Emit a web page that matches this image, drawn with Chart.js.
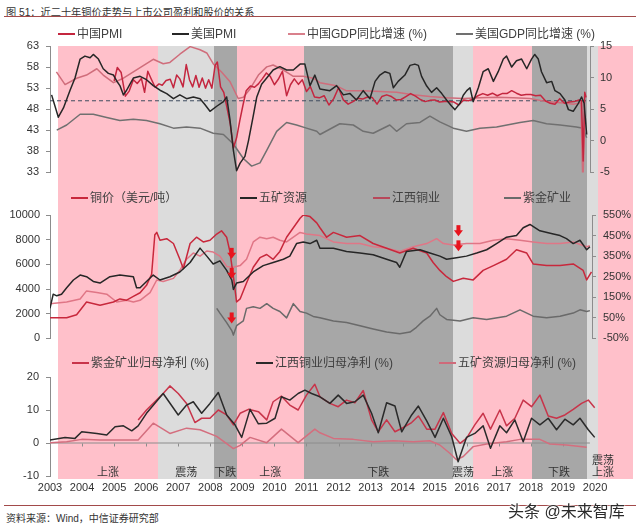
<!DOCTYPE html>
<html><head><meta charset="utf-8">
<script src="https://cdn.jsdelivr.net/npm/chart.js@4/dist/chart.umd.min.js"></script>
<style>
body{margin:0;width:640px;height:531px;background:#fff;position:relative;overflow:hidden;font-family:"Liberation Sans","Noto Sans CJK SC",sans-serif;}
canvas{position:absolute;left:0;}
.t{position:absolute;white-space:nowrap;color:#333;}
.lg{position:absolute;font-size:12px;color:#404040;white-space:nowrap;line-height:14px;height:14px}
.lg i{display:inline-block;width:17px;height:0;border-top:2px solid;vertical-align:middle;margin-right:2px;position:relative;top:-1px}
.hl{position:absolute;left:4px;width:632px;height:0;border-top:1.5px solid #a24a4a}
</style></head><body>
<div class="t" style="left:6px;top:4px;font-size:10.2px;color:#333">图 51：近二十年铜价走势与上市公司盈利和股价的关系</div>
<div class="hl" style="top:16px"></div>
<canvas id="cA" width="640" height="158" style="top:28px"></canvas>
<canvas id="cB" width="640" height="166" style="top:186px"></canvas>
<canvas id="cC" width="640" height="148" style="top:352px"></canvas>

<div class="lg" style="left:58px;top:27px"><i style="border-color:#c4263f"></i>中国PMI</div>
<div class="lg" style="left:172px;top:27px"><i style="border-color:#262626"></i>美国PMI</div>
<div class="lg" style="left:288px;top:27px"><i style="border-color:#d9808c"></i>中国GDP同比增速 (%)</div>
<div class="lg" style="left:456px;top:27px"><i style="border-color:#707070"></i>美国GDP同比增速 (%)</div>

<div class="lg" style="left:71px;top:191px"><i style="border-color:#c8283c"></i>铜价（美元/吨）</div>
<div class="lg" style="left:240px;top:191px"><i style="border-color:#262626"></i>五矿资源</div>
<div class="lg" style="left:373px;top:191px"><i style="border-color:#b8485a"></i>江西铜业</div>
<div class="lg" style="left:504px;top:191px"><i style="border-color:#6a6a6a"></i>紫金矿业</div>

<div class="lg" style="left:72px;top:356px"><i style="border-color:#c8344a"></i>紫金矿业归母净利 (%)</div>
<div class="lg" style="left:256px;top:356px"><i style="border-color:#2a2a2a"></i>江西铜业归母净利 (%)</div>
<div class="lg" style="left:439px;top:356px"><i style="border-color:#cf6a7a"></i>五矿资源归母净利 (%)</div>

<div class="hl" style="top:505px"></div>
<div class="t" style="left:6px;top:510px;font-size:10px;color:#333">资料来源：Wind，中信证券研究部</div>
<div class="t" style="left:508px;top:498px;font-size:16px;color:#2b2b2b;text-shadow:0 0 2px #fff,0 0 2px #fff,0 0 3px #fff">头条 @未来智库</div>

<script>
// ---------------- data ----------------
const yearTicks = [2003,2004,2005,2006,2007,2008,2009,2010,2011,2012,2013,2014,2015,2016,2017,2018,2019,2020];

const bandStart = [2003.25,2006.37,2008.12,2008.83,2010.92,2015.57,2016.19,2018.03,2019.74,2020.09];
const bandEnd   = [2006.37,2008.12,2008.83,2010.92,2015.57,2016.19,2018.03,2019.74,2020.09,2021.18];
const bandKind  = ['up','range','down','up','down','range','up','down','range','up'];
const bandLabelText  = ['上涨','震荡','下跌','上涨','下跌','震荡','上涨','下跌','震荡\n上涨'];
const bandLabelYears = [2004.81,2007.25,2008.47,2009.87,2013.24,2015.88,2017.11,2018.88,2020.25];

// Panel 1: PMI (left) & GDP yoy (right)
const cnPmi = [[2005.00,54.7],[2005.10,57.9],[2005.22,56.7],[2005.35,51.1],[2005.47,52.3],[2005.6,55.0],[2005.72,54.1],[2005.85,55.3],[2005.95,52.0],[2006.05,57.0],[2006.15,55.3],[2006.28,53.2],[2006.4,54.0],[2006.5,53.7],[2006.62,54.8],[2006.75,55.1],[2006.85,53.1],[2006.95,56.1],[2007.05,55.2],[2007.15,53.3],[2007.25,58.6],[2007.35,55.0],[2007.45,53.3],[2007.55,56.0],[2007.65,53.2],[2007.75,55.4],[2007.85,53.0],[2007.95,55.0],[2008.05,53.0],[2008.15,58.4],[2008.22,59.2],[2008.32,53.3],[2008.42,52.0],[2008.52,48.4],[2008.62,44.6],[2008.72,38.8],[2008.82,41.2],[2008.92,45.3],[2009.02,49.0],[2009.12,52.4],[2009.25,53.5],[2009.38,53.2],[2009.5,54.0],[2009.62,55.2],[2009.75,56.6],[2009.87,55.8],[2010.0,53.8],[2010.12,55.1],[2010.25,57.0],[2010.38,51.2],[2010.5,53.8],[2010.62,55.2],[2010.75,53.9],[2010.87,55.0],[2011.0,52.2],[2011.12,53.4],[2011.25,50.9],[2011.4,50.7],[2011.55,51.2],[2011.7,49.0],[2011.85,50.5],[2012.0,53.1],[2012.15,50.2],[2012.3,49.2],[2012.45,49.8],[2012.6,50.6],[2012.75,50.4],[2012.9,50.9],[2013.05,50.8],[2013.2,49.2],[2013.35,51.0],[2013.5,51.4],[2013.65,51.0],[2013.8,50.2],[2013.95,50.3],[2014.1,51.0],[2014.25,51.7],[2014.4,51.1],[2014.55,50.3],[2014.7,49.8],[2014.85,50.1],[2015.0,50.2],[2015.15,49.7],[2015.3,49.8],[2015.45,49.8],[2015.6,49.7],[2015.75,49.0],[2015.9,50.2],[2016.05,50.0],[2016.2,50.4],[2016.35,51.2],[2016.5,51.7],[2016.65,51.3],[2016.8,51.8],[2016.95,51.2],[2017.1,51.7],[2017.25,51.7],[2017.4,52.4],[2017.55,51.8],[2017.7,51.3],[2017.85,51.5],[2018.0,51.5],[2018.15,51.2],[2018.3,51.3],[2018.45,50.0],[2018.6,49.4],[2018.75,49.2],[2018.9,50.5],[2019.05,49.4],[2019.2,49.7],[2019.35,49.8],[2019.5,50.2],[2019.58,50.0],[2019.63,35.7],[2019.68,52.0],[2019.72,50.8]];
const usPmi = [[2003.05,51.4],[2003.26,46.1],[2003.42,48.3],[2003.62,52.4],[2003.78,55.4],[2003.94,59.9],[2004.09,60.6],[2004.25,60.2],[2004.35,61.0],[2004.51,59.9],[2004.66,57.6],[2004.82,56.5],[2004.98,56.1],[2005.08,54.7],[2005.18,53.6],[2005.29,51.4],[2005.39,52.5],[2005.49,53.9],[2005.60,55.4],[2005.81,55.8],[2006.01,55.0],[2006.22,53.6],[2006.43,52.5],[2006.64,51.7],[2006.85,50.5],[2007.05,51.4],[2007.26,50.5],[2007.47,50.9],[2007.68,50.5],[2007.83,49.1],[2007.99,47.5],[2008.20,48.7],[2008.41,49.8],[2008.51,50.9],[2008.61,45.7],[2008.72,38.2],[2008.82,33.4],[2008.93,35.2],[2009.08,36.8],[2009.19,40.5],[2009.34,46.4],[2009.45,50.9],[2009.60,53.9],[2009.76,55.4],[2009.96,57.3],[2010.17,58.1],[2010.38,57.3],[2010.59,57.3],[2010.80,58.7],[2010.95,58.7],[2011.11,53.6],[2011.26,56.1],[2011.42,52.8],[2011.73,52.4],[2011.94,53.6],[2012.15,51.4],[2012.36,51.7],[2012.56,50.2],[2012.77,52.4],[2012.98,50.5],[2013.14,54.6],[2013.29,56.1],[2013.45,56.9],[2013.60,56.5],[2013.71,53.1],[2013.86,54.6],[2014.07,56.1],[2014.23,58.4],[2014.38,58.7],[2014.49,58.4],[2014.59,55.8],[2014.75,53.5],[2014.90,52.0],[2015.06,53.1],[2015.22,51.7],[2015.37,50.2],[2015.53,48.7],[2015.63,47.9],[2015.79,49.4],[2015.89,51.3],[2016.00,52.4],[2016.10,53.1],[2016.20,49.8],[2016.36,53.1],[2016.51,56.9],[2016.67,57.6],[2016.83,54.6],[2016.98,56.9],[2017.14,59.9],[2017.24,60.6],[2017.40,58.0],[2017.55,59.5],[2017.71,59.9],[2017.87,57.6],[2018.02,59.9],[2018.12,61.0],[2018.23,59.9],[2018.33,56.9],[2018.49,54.3],[2018.65,54.6],[2018.75,52.4],[2018.91,51.7],[2019.06,50.2],[2019.17,47.9],[2019.32,47.5],[2019.48,49.4],[2019.58,50.9],[2019.66,49.4],[2019.74,42.0]];
const cnGdp = [[2003.20,10.9],[2003.47,8.9],[2003.83,9.9],[2004.14,10.4],[2004.46,11.4],[2004.66,10.4],[2004.98,9.2],[2005.29,9.9],[2005.60,10.9],[2005.91,11.9],[2006.22,12.9],[2006.53,12.2],[2006.74,12.4],[2007.05,13.7],[2007.37,14.9],[2007.68,14.4],[2007.89,13.9],[2008.09,12.2],[2008.35,10.9],[2008.61,9.4],[2008.87,6.7],[2009.03,6.9],[2009.24,8.2],[2009.50,10.4],[2009.76,11.7],[2009.96,12.0],[2010.28,11.2],[2010.59,10.2],[2010.90,10.2],[2011.21,9.9],[2011.42,9.2],[2011.94,8.7],[2012.25,7.9],[2012.77,7.9],[2013.29,7.8],[2013.81,7.7],[2014.33,7.3],[2014.85,7.0],[2015.37,6.8],[2015.89,6.7],[2016.41,6.8],[2016.93,6.9],[2017.45,6.8],[2017.97,6.7],[2018.49,6.2],[2019.01,6.0],[2019.32,5.8],[2019.56,6.0],[2019.62,-6.8],[2019.68,3.2]];
const usGdp = [[2003.21,1.7],[2003.52,2.5],[2003.94,4.2],[2004.35,4.2],[2004.77,3.7],[2005.18,3.2],[2005.60,3.4],[2006.01,3.2],[2006.43,2.7],[2006.85,2.0],[2007.26,2.2],[2007.68,2.0],[2008.09,1.2],[2008.41,1.0],[2008.72,-0.5],[2009.03,-2.8],[2009.29,-4.0],[2009.55,-3.5],[2009.76,-1.5],[2010.07,1.5],[2010.38,2.9],[2010.69,2.5],[2011.00,2.0],[2011.32,1.5],[2011.42,1.0],[2012.04,2.7],[2012.46,2.5],[2012.77,1.5],[2013.08,1.2],[2013.60,2.5],[2013.81,1.5],[2014.12,2.7],[2014.54,2.9],[2014.85,3.9],[2015.16,3.0],[2015.58,2.0],[2015.99,1.5],[2016.41,2.0],[2016.93,2.2],[2017.66,2.9],[2018.07,3.2],[2018.49,2.7],[2018.91,2.5],[2019.42,2.2],[2019.63,2.0],[2019.74,0.5]];
const pmiLine = [[2003,50],[2019.84,50]];

// Panel 2: copper price (USD/t, left) & share prices (% , right)
const copper = [[2003.00,1670],[2003.52,1670],[2003.83,1920],[2004.14,2950],[2004.56,2690],[2004.98,2950],[2005.18,3200],[2005.39,3100],[2005.60,3400],[2005.81,3700],[2006.01,4300],[2006.17,5200],[2006.27,8400],[2006.33,8590],[2006.43,7950],[2006.64,8080],[2006.85,7690],[2007.05,6410],[2007.16,5640],[2007.37,7690],[2007.57,8200],[2007.78,7820],[2007.99,7950],[2008.20,8460],[2008.35,8720],[2008.51,8200],[2008.61,7050],[2008.72,5000],[2008.82,2950],[2008.93,3200],[2009.13,4490],[2009.34,5770],[2009.55,6540],[2009.76,6800],[2009.96,6410],[2010.17,7050],[2010.38,8200],[2010.59,8970],[2010.80,9740],[2010.90,10000],[2011.11,9870],[2011.32,9360],[2011.42,8970],[2011.63,8200],[2011.84,8590],[2012.25,8200],[2012.67,8330],[2013.08,7690],[2013.50,7310],[2013.91,6920],[2014.33,7310],[2014.75,6920],[2014.95,6150],[2015.16,5510],[2015.37,5000],[2015.58,4620],[2015.89,4870],[2016.20,4740],[2016.51,5510],[2016.83,5900],[2017.24,6410],[2017.55,7180],[2017.87,6920],[2018.07,6030],[2018.49,5900],[2018.91,5900],[2019.32,6030],[2019.63,5510],[2019.74,4740],[2019.89,5380]];
const minmetals = [[2003.00,96],[2003.10,165],[2003.21,157],[2003.36,165],[2003.52,196],[2003.73,234],[2003.94,258],[2004.14,250],[2004.35,227],[2004.56,219],[2004.87,250],[2005.18,258],[2005.60,250],[2005.70,196],[2005.81,196],[2006.01,227],[2006.22,258],[2006.43,234],[2006.74,250],[2007.05,273],[2007.37,319],[2007.68,389],[2007.89,350],[2008.09,312],[2008.30,327],[2008.51,281],[2008.67,234],[2008.72,188],[2008.82,219],[2009.03,227],[2009.34,273],[2009.65,304],[2009.96,319],[2010.28,335],[2010.48,350],[2010.69,411],[2010.90,419],[2011.11,411],[2011.32,427],[2011.42,388],[2011.84,388],[2012.25,373],[2012.67,365],[2013.08,357],[2013.50,335],[2013.81,319],[2013.91,296],[2014.12,373],[2014.54,381],[2014.85,365],[2015.16,350],[2015.37,335],[2015.68,342],[2015.99,350],[2016.31,365],[2016.62,381],[2016.93,411],[2017.24,442],[2017.55,450],[2017.76,488],[2017.97,504],[2018.28,473],[2018.70,458],[2018.91,450],[2019.11,435],[2019.32,411],[2019.53,427],[2019.74,381],[2019.84,396]];
const jiangxi = [[2003.00,119],[2003.52,127],[2003.94,142],[2004.14,181],[2004.46,173],[2004.77,165],[2005.08,127],[2005.39,135],[2005.60,127],[2005.81,135],[2006.12,173],[2006.33,234],[2006.53,227],[2006.85,242],[2007.05,281],[2007.26,335],[2007.47,365],[2007.68,350],[2007.89,375],[2008.09,370],[2008.30,350],[2008.51,300],[2008.72,296],[2008.93,304],[2009.13,335],[2009.34,419],[2009.55,442],[2009.76,435],[2009.96,442],[2010.17,427],[2010.38,419],[2010.59,442],[2010.80,465],[2011.00,458],[2011.42,450],[2011.84,419],[2012.25,411],[2012.67,411],[2013.08,396],[2013.50,389],[2013.91,373],[2014.33,396],[2014.75,411],[2015.06,435],[2015.27,411],[2015.58,404],[2015.99,411],[2016.41,411],[2016.83,427],[2017.24,435],[2017.66,427],[2018.07,419],[2018.49,411],[2018.91,411],[2019.32,419],[2019.74,396],[2019.84,400]];
const zijin = [[2008.20,96],[2008.30,73],[2008.51,27],[2008.67,-12],[2008.72,-34],[2008.82,12],[2009.03,35],[2009.13,96],[2009.34,104],[2009.55,96],[2009.76,119],[2009.96,96],[2010.17,81],[2010.38,50],[2010.59,119],[2010.80,81],[2011.00,73],[2011.21,57],[2011.42,50],[2011.84,35],[2012.25,27],[2012.67,12],[2013.08,-4],[2013.50,-19],[2013.91,-27],[2014.23,-19],[2014.43,4],[2014.64,35],[2014.85,58],[2015.06,96],[2015.16,65],[2015.37,42],[2015.79,35],[2016.20,50],[2016.62,42],[2017.24,58],[2017.66,89],[2018.07,58],[2018.49,50],[2018.91,58],[2019.32,73],[2019.53,89],[2019.74,81],[2019.84,85]];
const arrowMarks = [[2008.667,6850],[2008.667,5230],[2008.667,1615],[2015.74,8690],[2015.74,7460]];

// Panel 3: net profit attributable to parent (%)
const zijinProfit = [[2005.75,7.0],[2006.01,10.0],[2006.27,12.5],[2006.53,15.0],[2006.74,17.3],[2007.00,15.0],[2007.26,12.0],[2007.52,6.2],[2007.73,7.5],[2007.99,7.5],[2008.25,10.0],[2008.51,8.5],[2008.72,5.5],[2008.93,9.0],[2009.19,10.2],[2009.50,9.5],[2009.76,7.0],[2009.96,12.5],[2010.22,14.2],[2010.48,11.5],[2010.74,10.0],[2011.00,14.5],[2011.26,17.8],[2011.42,14.0],[2011.73,12.0],[2011.99,11.0],[2012.25,13.0],[2012.51,12.2],[2012.77,15.9],[2013.03,7.0],[2013.24,3.4],[2013.50,7.0],[2013.76,3.4],[2014.02,4.7],[2014.28,6.2],[2014.49,8.2],[2014.75,4.2],[2015.01,4.2],[2015.27,9.2],[2015.53,2.9],[2015.79,-0.1],[2015.99,1.4],[2016.25,5.5],[2016.51,9.0],[2016.74,4.2],[2017.03,10.0],[2017.24,5.2],[2017.50,7.5],[2017.76,13.0],[2018.02,11.0],[2018.28,14.5],[2018.54,8.2],[2018.80,7.5],[2019.06,8.5],[2019.32,10.2],[2019.58,12.0],[2019.79,13.0],[2019.99,10.7]];
const jiangxiProfit = [[2003.00,0.9],[2003.47,1.7],[2003.78,1.4],[2003.99,3.4],[2004.46,2.9],[2004.77,2.4],[2005.03,4.9],[2005.29,5.2],[2005.55,3.7],[2005.75,5.2],[2006.01,9.0],[2006.53,15.0],[2007.00,8.5],[2007.26,11.5],[2007.47,12.5],[2007.73,9.0],[2007.99,12.0],[2008.25,15.3],[2008.51,8.5],[2008.77,5.5],[2008.98,1.7],[2009.24,10.2],[2009.50,5.8],[2009.76,6.0],[2010.02,7.5],[2010.22,14.0],[2010.48,13.0],[2010.74,15.0],[2010.95,16.0],[2011.16,15.0],[2011.42,14.0],[2011.73,12.0],[2011.99,14.5],[2012.25,12.0],[2012.51,12.5],[2012.77,14.5],[2013.03,9.0],[2013.24,3.1],[2013.50,12.2],[2013.76,11.2],[2013.97,3.4],[2014.28,8.5],[2014.49,11.2],[2014.75,6.7],[2015.01,1.7],[2015.27,7.5],[2015.53,1.9],[2015.73,-5.7],[2015.99,1.7],[2016.25,2.9],[2016.51,5.2],[2016.74,-1.6],[2017.03,5.2],[2017.24,3.1],[2017.50,7.0],[2017.76,0.4],[2018.02,7.5],[2018.28,5.5],[2018.54,7.5],[2018.80,4.0],[2019.06,7.2],[2019.32,5.5],[2019.53,7.5],[2019.79,4.0],[2019.99,1.7]];
const minmetalsProfit = [[2003.00,0.1],[2003.52,0.4],[2003.99,1.1],[2004.56,0.9],[2005.08,0.9],[2005.75,0.9],[2006.22,6.0],[2006.74,2.9],[2007.26,4.5],[2007.68,4.0],[2008.20,2.0],[2008.51,-0.2],[2008.72,-1.7],[2008.93,-0.7],[2009.24,1.7],[2009.76,0.1],[2010.22,4.2],[2010.74,0.1],[2011.26,4.2],[2011.42,3.1],[2011.84,1.4],[2012.46,1.1],[2013.08,0.4],[2013.71,0.7],[2014.33,0.4],[2014.85,0.7],[2015.16,-0.6],[2015.47,-3.1],[2015.68,-5.1],[2015.89,-4.1],[2016.20,-1.1],[2016.62,-0.3],[2017.24,0.4],[2017.66,1.1],[2018.28,1.1],[2018.59,-0.3],[2019.11,-0.6],[2019.74,-1.3]];
const zeroLine = [[2003,0],[2019.84,0]];

// ---------------- rendering ----------------
const FONT = "'Liberation Sans','Noto Sans CJK SC',sans-serif";
const PXY = 32.06; // px per year (layout)
const bandColor = {up:'#ffc0ca', range:'#dcdcdc', down:'#a7a7a7'};
const xy = a => a.map(p => ({x:p[0], y:p[1]}));

function bandsPlugin(topFn, bottomFn){
  return {id:'bands', beforeDraw(chart){
    const ctx = chart.ctx, x = chart.scales.x;
    const top = topFn(chart), bottom = bottomFn(chart);
    ctx.save();
    for (let i=0;i<bandStart.length;i++){
      const a = Math.round(x.getPixelForValue(bandStart[i])), b = Math.round(x.getPixelForValue(bandEnd[i]));
      ctx.fillStyle = bandColor[bandKind[i]];
      ctx.fillRect(a, top, b-a, bottom-top);
    }
    ctx.restore();
  }};
}
function yAxis(pos, min, max, step, width, pad, cb){
  return {position:pos, min, max,
    ticks:{stepSize:step, color:'#333', font:{family:FONT,size:11}, padding:pad, callback:cb || (v=>String(v))},
    grid:{drawOnChartArea:false, drawTicks:true, tickLength:4, color:'#8c8c8c', tickColor:'#8c8c8c'},
    border:{color:'#8c8c8c', width:1},
    afterFit(s){ s.width = width; }};
}
function line(label, data, color, axis, extra){
  return Object.assign({label, data:xy(data), borderColor:color, yAxisID:axis, borderWidth:1.5, pointRadius:0, tension:0, borderJoinStyle:'round', fill:false}, extra||{});
}
const common = {animation:false, responsive:false, devicePixelRatio:1, events:[],
  plugins:{legend:{display:false}, tooltip:{enabled:false}}};

// Panel 1
new Chart(document.getElementById('cA'), {
  type:'line',
  data:{datasets:[
    line('美国PMI', usPmi, '#262626', 'yL'),
    line('中国PMI', cnPmi, '#c4263f', 'yL'),
    line('中国GDP同比增速', cnGdp, '#d06d7b', 'yR'),
    line('美国GDP同比增速', usGdp, '#707070', 'yR'),
    line('50', pmiLine, '#3e4b5e', 'yL', {borderWidth:1, borderDash:[4,3]})
  ]},
  options:Object.assign({}, common, {
    layout:{autoPadding:false, padding:{top:18,bottom:6,left:0,right:0}},
    scales:{
      x:{type:'linear', min:2003, max:2003+540/PXY, display:false},
      yL:yAxis('left', 33, 63, 5, 50, 7),
      yR:yAxis('right', -5, 15, 5, 50, 6)
    }}),
  plugins:[bandsPlugin(c=>c.chartArea.top, c=>c.height)]
});

// Panel 2
const arrowPlugin = {id:'arrows', afterDatasetsDraw(chart){
  const ctx = chart.ctx, x = chart.scales.x, y = chart.scales.yL;
  ctx.save(); ctx.fillStyle = '#e8141e';
  arrowMarks.forEach(m => {
    const px = x.getPixelForValue(m[0]), py = y.getPixelForValue(m[1]);
    ctx.fillRect(px-2, py-6, 4, 6);
    ctx.beginPath(); ctx.moveTo(px-4.5, py-1); ctx.lineTo(px+4.5, py-1); ctx.lineTo(px, py+5); ctx.closePath(); ctx.fill();
  });
  ctx.restore();
}};
new Chart(document.getElementById('cB'), {
  type:'line',
  data:{datasets:[
    line('五矿资源', minmetals, '#262626', 'yR'),
    line('铜价', copper, '#c8283c', 'yL'),
    line('江西铜业', jiangxi, '#e07686', 'yR'),
    line('紫金矿业', zijin, '#6a6a6a', 'yR')
  ]},
  options:Object.assign({}, common, {
    layout:{autoPadding:false, padding:{top:29,bottom:7,left:0,right:0}},
    scales:{
      x:{type:'linear', min:2003, max:2003+542/PXY, display:false},
      yL:yAxis('left', 0, 10000, 2000, 50, 6),
      yR:yAxis('right', -50, 550, 100, 48, 7, v=>v+'%')
    }}),
  plugins:[bandsPlugin(c=>0, c=>c.height), arrowPlugin]
});

// Panel 3
const bandLabelPlugin = {id:'bandLabels', beforeDatasetsDraw(chart){
  const ctx = chart.ctx, x = chart.scales.x, ca = chart.chartArea, y = chart.scales.yL;
  ctx.save();
  ctx.fillStyle = '#333'; ctx.font = "11px " + FONT; ctx.textAlign = 'center'; ctx.textBaseline = 'middle';
  bandLabelText.forEach((t,i) => {
    const px = x.getPixelForValue(bandLabelYears[i]);
    const lines = t.split('\n');
    lines.forEach((s,j) => ctx.fillText(s, px, ca.bottom - 3 - (lines.length-1-j)*12.5));
  });
  // small tick marks on the zero line
  ctx.strokeStyle = '#8c8c8c'; ctx.lineWidth = 1;
  const y0 = Math.round(y.getPixelForValue(0)) + 0.5;
  yearTicks.forEach(v => { if (v < 2020) { const px = Math.round(x.getPixelForValue(v)) + 0.5; ctx.beginPath(); ctx.moveTo(px, y0); ctx.lineTo(px, y0+3); ctx.stroke(); }});
  ctx.restore();
}};
new Chart(document.getElementById('cC'), {
  type:'line',
  data:{datasets:[
    line('江西铜业归母净利', jiangxiProfit, '#2a2a2a', 'yL'),
    line('紫金矿业归母净利', zijinProfit, '#c8344a', 'yL'),
    line('五矿资源归母净利', minmetalsProfit, '#d46e7e', 'yL'),
    line('0', zeroLine, '#8c8c8c', 'yL', {borderWidth:1})
  ]},
  options:Object.assign({}, common, {
    layout:{autoPadding:false, padding:{top:25,bottom:4,left:0,right:7}},
    scales:{
      x:{type:'linear', min:2003, max:2003+583/PXY,
         afterBuildTicks(s){ s.ticks = yearTicks.map(v => ({value:v})); },
         ticks:{color:'#333', font:{family:FONT,size:11}, padding:5, autoSkip:false, maxRotation:0, minRotation:0, callback:v=>String(v)},
         grid:{display:false, drawTicks:false}, border:{display:false},
         afterFit(s){ s.height = 20; }},
      yL:yAxis('left', -10, 20, 10, 50, 7)
    }}),
  plugins:[bandsPlugin(c=>0, c=>c.chartArea.bottom+3), bandLabelPlugin]
});
</script>
</body></html>
